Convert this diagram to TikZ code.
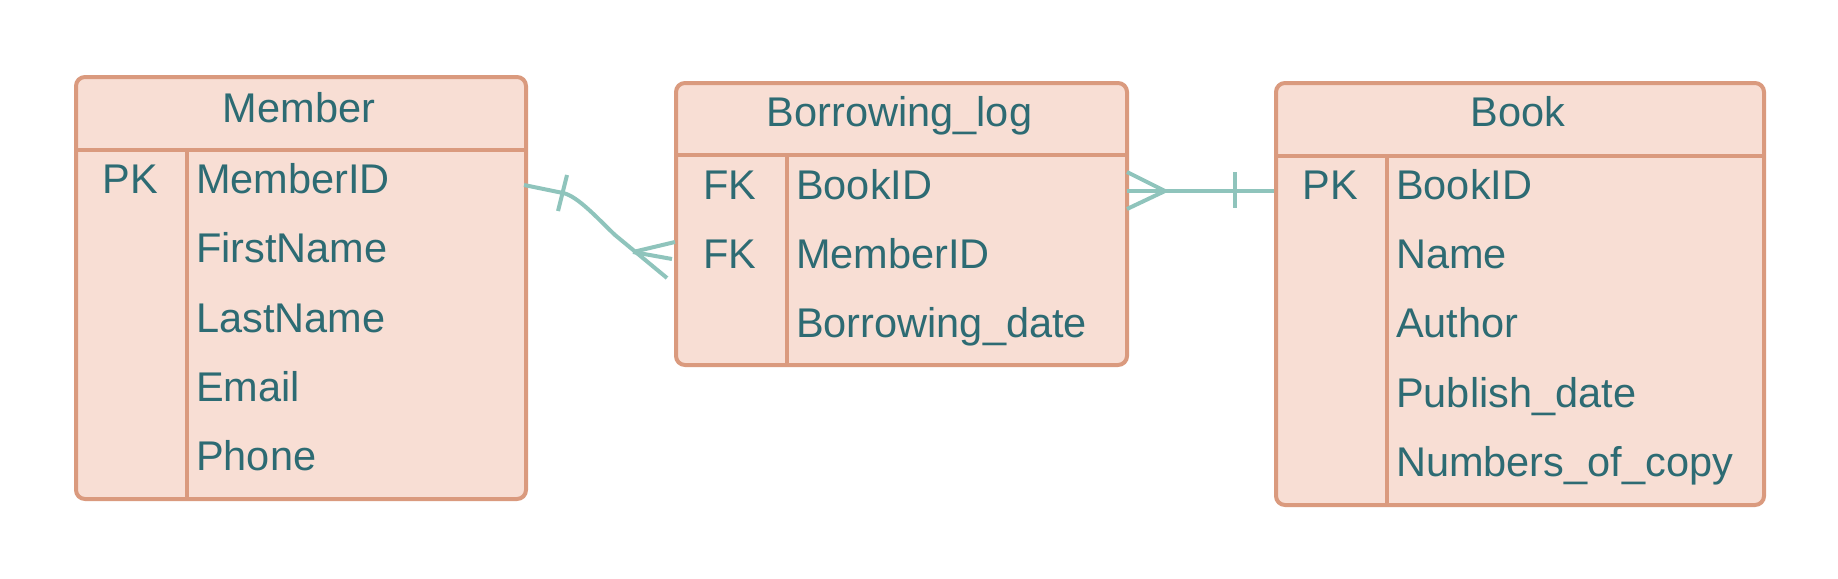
\documentclass[tikz,border=0pt]{standalone}
\usepackage{fontspec}
\setmainfont{Liberation Sans}
\definecolor{tfill}{HTML}{F8DED4}
\definecolor{tline}{HTML}{DA9A7E}
\definecolor{ttext}{HTML}{2D6B73}
\definecolor{conn}{HTML}{8FC4BC}
\begin{document}
\begin{tikzpicture}[x=1pt,y=-1pt,
  tbl/.style={draw=tline,fill=tfill,line width=4pt,rounded corners=9pt,anchor=north west,inner sep=0pt},
  sep/.style={draw=tline,line width=4pt},
  txt/.style={text=ttext,font=\fontsize{41.5}{48}\selectfont,inner sep=0pt},
  fld/.style={txt,anchor=base west},
  key/.style={txt,anchor=base},
  ttl/.style={txt,anchor=base},
  cn/.style={draw=conn,line width=4pt}]
\useasboundingbox (0,0) rectangle (1838,578);
% Member
\node[tbl,minimum width=450pt,minimum height=422pt] (member) at (74,75) {};
\draw[sep] (74,150) -- (524,150);
\draw[sep] (187,150) -- (187,497);
\node[ttl] (mt) at (299,122) {Member};
\node[key] (mk1) at (130.5,193) {PK};
\node[fld] (m1) at (196,193) {MemberID};
\node[fld] (m2) at (196,262.5) {FirstName};
\node[fld] (m3) at (196,332) {LastName};
\node[fld] (m4) at (196,401) {Email};
\node[fld] (m5) at (196,470) {Phone};
% Borrowing_log
\node[tbl,minimum width=451pt,minimum height=282pt] (blog) at (674,81) {};
\draw[sep] (674,155) -- (1125,155);
\draw[sep] (786.5,155) -- (786.5,363);
\node[ttl] (bt) at (899.5,126.5) {Borrowing\_log};
\node[key] (bk1) at (730,199) {FK};
\node[key] (bk2) at (730,268.5) {FK};
\node[fld] (b1) at (796,199) {BookID};
\node[fld] (b2) at (796,268.5) {MemberID};
\node[fld] (b3) at (796,337.5) {Borrowing\_date};
% Book
\node[tbl,minimum width=488pt,minimum height=422pt] (book) at (1274,81) {};
\draw[sep] (1274,156) -- (1762,156);
\draw[sep] (1387,156) -- (1387,503);
\node[ttl] (kt) at (1518,126.5) {Book};
\node[key] (kk1) at (1330.5,199) {PK};
\node[fld] (k1) at (1396,199) {BookID};
\node[fld] (k2) at (1396,268.5) {Name};
\node[fld] (k3) at (1396,337.5) {Author};
\node[fld] (k4) at (1396,407) {Publish\_date};
\node[fld] (k5) at (1396,476) {Numbers\_of\_copy};
% connector Member -- Borrowing_log
\coordinate (a0) at (524,185);
\coordinate (a1) at (563,193);
\coordinate (a2) at (615,235);
\coordinate (a3) at (633,252);
\coordinate (a4) at (667,278);
\coordinate (ab1) at (558,211);
\coordinate (ab2) at (567,175);
\coordinate (ap1) at (675,242);
\coordinate (ap2) at (672,259);
\draw[cn] (a0) -- (a1) .. controls (578,196) and (600,221) .. (a2) -- (a4);
\draw[cn] (ab1) -- (ab2);
\draw[cn] (a3) -- (ap1);
\draw[cn] (a3) -- (ap2);
% connector Borrowing_log -- Book
\coordinate (c0) at (1127,191);
\coordinate (c1) at (1274,191);
\coordinate (cf) at (1165,191);
\coordinate (cu) at (1127,172);
\coordinate (cd) at (1127,209);
\coordinate (cb1) at (1235,172);
\coordinate (cb2) at (1235,208);
\draw[cn] (c0) -- (c1);
\draw[cn] (cu) -- (cf) -- (cd);
\draw[cn] (cb1) -- (cb2);
\end{tikzpicture}
\end{document}
